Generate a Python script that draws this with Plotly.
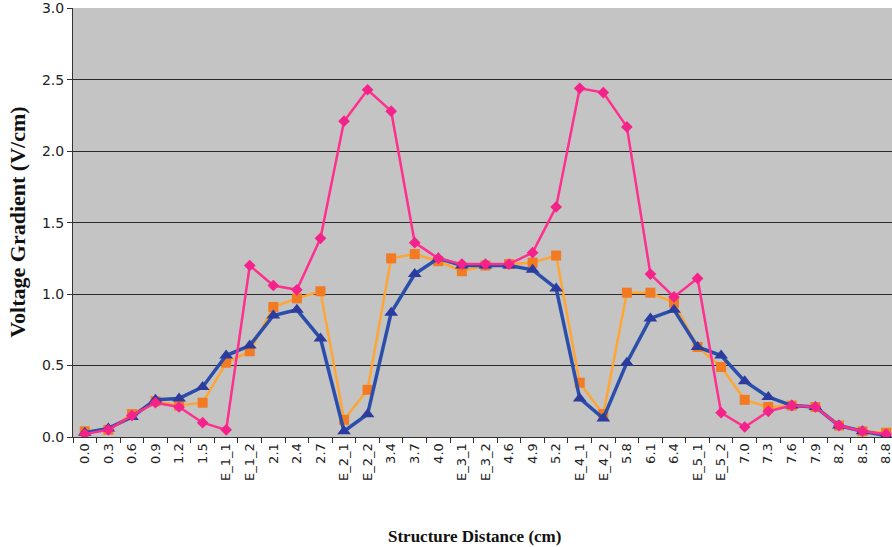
import plotly.graph_objects as go

categories = ["0.0", "0.3", "0.6", "0.9", "1.2", "1.5", "E_1_1", "E_1_2", "2.1", "2.4", "2.7",
              "E_2_1", "E_2_2", "3.4", "3.7", "4.0", "E_3_1", "E_3_2", "4.6", "4.9", "5.2",
              "E_4_1", "E_4_2", "5.8", "6.1", "6.4", "E_5_1", "E_5_2", "7.0", "7.3", "7.6",
              "7.9", "8.2", "8.5", "8.8"]

pink_values = [0.02, 0.05, 0.15, 0.24, 0.21, 0.10, 0.05, 1.20, 1.06, 1.03, 1.39,
               2.21, 2.43, 2.28, 1.36, 1.25, 1.21, 1.21, 1.21, 1.29, 1.61,
               2.44, 2.41, 2.17, 1.14, 0.98, 1.11, 0.17, 0.07, 0.18, 0.22,
               0.21, 0.08, 0.04, 0.02]

orange_values = [0.04, 0.05, 0.16, 0.25, 0.22, 0.24, 0.52, 0.60, 0.91, 0.97, 1.02,
                 0.12, 0.33, 1.25, 1.28, 1.23, 1.16, 1.20, 1.21, 1.22, 1.27,
                 0.38, 0.16, 1.01, 1.01, 0.94, 0.63, 0.49, 0.26, 0.21, 0.22,
                 0.21, 0.08, 0.04, 0.03]

blue_values = [0.03, 0.06, 0.14, 0.26, 0.27, 0.35, 0.57, 0.64, 0.85, 0.89, 0.69,
               0.04, 0.16, 0.87, 1.14, 1.25, 1.20, 1.20, 1.20, 1.17, 1.04,
               0.27, 0.13, 0.52, 0.83, 0.89, 0.63, 0.57, 0.39, 0.28, 0.22,
               0.21, 0.08, 0.04, 0.01]

y_ticks = [0.0, 0.5, 1.0, 1.5, 2.0, 2.5, 3.0]

fig = go.Figure()
fig.add_trace(go.Scatter(
    x=categories, y=orange_values, mode="lines+markers",
    line=dict(color="#ffa534", width=2.5),
    marker=dict(symbol="square", size=10, color="#f27a22"),
    showlegend=False))
fig.add_trace(go.Scatter(
    x=categories, y=blue_values, mode="lines+markers",
    line=dict(color="#2a4eaa", width=3.5),
    marker=dict(symbol="triangle-up", size=12, color="#2b3c9e"),
    showlegend=False))
fig.add_trace(go.Scatter(
    x=categories, y=pink_values, mode="lines+markers",
    line=dict(color="#ff2f8e", width=2.5),
    marker=dict(symbol="diamond", size=9, color="#f5228a"),
    showlegend=False))

fig.update_layout(
    width=892, height=547,
    margin=dict(l=73, r=0, t=8, b=110),
    paper_bgcolor="white",
    plot_bgcolor="#c4c4c4",
    font=dict(family="DejaVu Sans", color="#222"),
    xaxis=dict(
        type="category",
        range=[-0.5, 34.25],
        automargin=False,
        tickangle=-90,
        tickfont=dict(family="DejaVu Sans", size=13, color="#222"),
        ticks="outside", ticklen=5, tickcolor="#333",
        tickson="boundaries",
        showgrid=False,
        showline=True, linecolor="#333", linewidth=1,
    ),
    yaxis=dict(
        range=[0, 3.002],
        automargin=False,
        tickvals=y_ticks,
        ticktext=[f"{v:.1f}" for v in y_ticks],
        tickfont=dict(family="DejaVu Sans", size=14, color="#222"),
        ticks="outside", ticklen=5, tickcolor="#333",
        showgrid=True, gridcolor="#2a2a2a", gridwidth=1,
        showline=True, linecolor="#333", linewidth=1,
        zeroline=False,
    ),
    annotations=[
        dict(text="<b>Structure Distance (cm)</b>", xref="paper", yref="paper",
             x=0.49, y=-0.231, xanchor="center", yanchor="middle", showarrow=False,
             font=dict(family="Liberation Serif", size=17, color="#111")),
        dict(text="<b>Voltage Gradient (V/cm)</b>", xref="paper", yref="paper",
             x=-0.068, y=0.5, xanchor="center", yanchor="middle", showarrow=False,
             textangle=-90,
             font=dict(family="Liberation Serif", size=22, color="#111")),
    ],
)

fig.write_html("out.html",
               config={"displayModeBar": False},
               post_script="document.body.style.margin='0';document.body.style.overflow='hidden';")
